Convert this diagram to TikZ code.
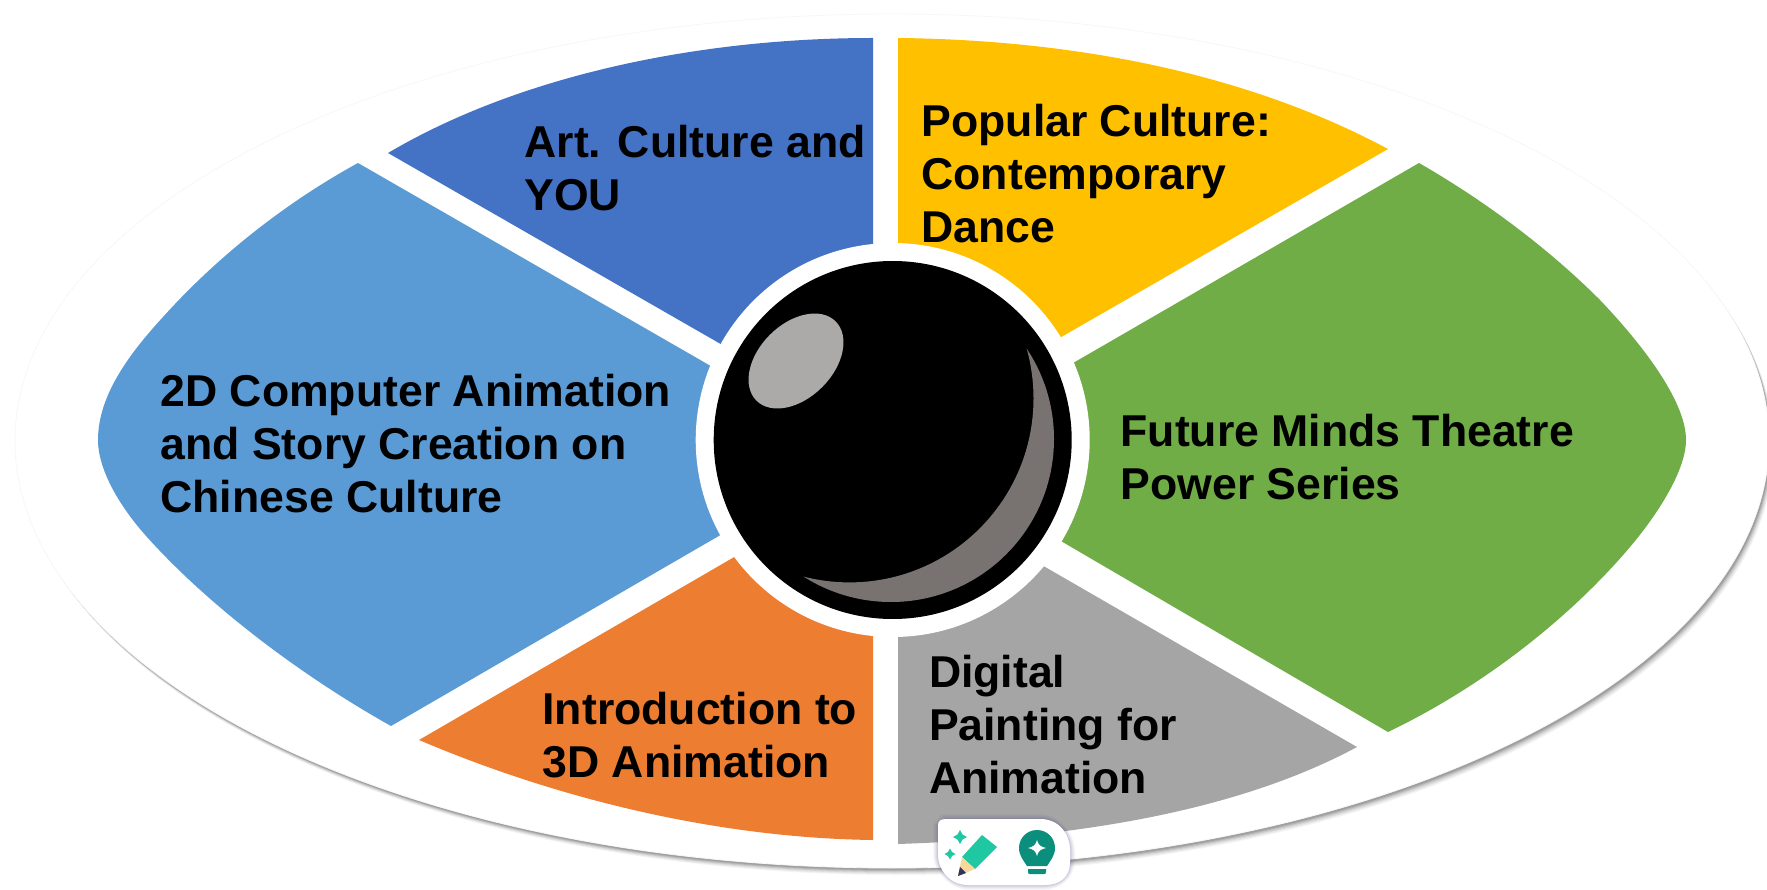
\documentclass[tikz,border=0pt]{standalone}
\usepackage{fontspec}
\setmainfont{Liberation Sans}
\definecolor{cDark}{HTML}{4472C4}
\definecolor{cLight}{HTML}{5B9BD5}
\definecolor{cYellow}{HTML}{FFC000}
\definecolor{cGreen}{HTML}{70AD47}
\definecolor{cOrange}{HTML}{ED7D31}
\definecolor{cGray}{HTML}{A5A5A5}
\definecolor{cCres}{HTML}{787371}
\definecolor{cHigh}{HTML}{ACA9A9}
\definecolor{cPencil}{HTML}{1FC7A2}
\definecolor{cBulb}{HTML}{0B8F7C}
\definecolor{cWood}{HTML}{F7D79A}
\tikzset{
  label/.style={anchor=north west,inner sep=0pt,outer sep=0pt,align=left,text=black,
    font=\fontsize{44.6pt}{52.6pt}\selectfont\bfseries},
}
\begin{document}
\begin{tikzpicture}[x=1pt,y=-1pt]
\useasboundingbox (0,0) rectangle (1767,890);
% outer ellipse with soft shadow
\foreach \d/\o in {7/0.04,6/0.05,5/0.06,4/0.08,3/0.10,2/0.12}{
  \fill[black,opacity=\o] (892+\d*0.7,441+\d) ellipse [x radius=877,y radius=427];
}
\fill[white,draw=black!3,line width=0.8pt] (892,441) ellipse [x radius=877,y radius=427];
% segments
\fill[cDark] (388,153) .. controls (520,75) and (700,38) .. (873,38) -- (873,300) -- (752,362) -- cycle;
\fill[cLight] (358,163) .. controls (285,203) and (217,257) .. (163,317)
   .. controls (130,353) and (98,395) .. (98,440)
   .. controls (98,470) and (120,507) .. (147,537)
   .. controls (208,605) and (300,675) .. (391,726) -- (755,515) -- (742,384) -- cycle;
\fill[cYellow] (898,38) .. controls (1080,40) and (1250,75) .. (1388,149) -- (1030,355) -- (898,300) -- cycle;
\fill[cGreen] (1419,163) .. controls (1480,198) and (1545,245) .. (1600,300)
   .. controls (1640,342) and (1686,400) .. (1686,440)
   .. controls (1686,470) and (1658,514) .. (1630,547)
   .. controls (1575,612) and (1490,683) .. (1388,732) -- (1030,523) -- (1042,381) -- cycle;
\fill[cOrange] (419,740) .. controls (560,800) and (720,838) .. (873,840) -- (873,600) -- (767,538) -- cycle;
\fill[cGray] (898,844) .. controls (1080,838) and (1240,810) .. (1357,747) -- (1014,549) -- (898,600) -- cycle;
% centre ball
\fill[white] (892.7,440) circle [x radius=197,y radius=197];
\fill[black] (892.7,440) circle [x radius=179,y radius=179];
\begin{scope}[even odd rule]
  \clip (600,100) rectangle (1200,800)
     (849.5,398.4) circle [x radius=184,y radius=184];
  \fill[cCres] (891,439) circle [x radius=163,y radius=163];
\end{scope}
\fill[cHigh,rotate around={45:(796,361)}] (796,361) ellipse [x radius=56,y radius=37];
% labels
\node[label] (art) at (524.5,125.5) {Art. Culture and\\YOU};
\node[label] (pop) at (921.5,104.5) {Popular Culture:\\Contemporary\\Dance};
\node[label] (twod) at (160.5,374.5) {2D Computer Animation\\and Story Creation on\\Chinese Culture};
\node[label] (fut) at (1120.5,414.5) {Future Minds Theatre\\Power Series};
\node[label] (intro) at (542.5,692.5) {Introduction to\\3D Animation};
\node[label] (dig) at (929,655.5) {Digital\\Painting for\\Animation};
% toolbar
\foreach \d/\o in {5/0.04,4/0.05,3/0.06,2/0.08,1/0.1}{
  \fill[black!40!blue!40!gray,opacity=\o]
   (946-\d,819-\d) -- (1040,819-\d) .. controls (1060,819-\d) and (1070+\d,835) .. (1070+\d,850)
   -- (1070+\d,862) .. controls (1070+\d,877) and (1060,885+\d) .. (1045,885+\d)
   -- (968,885+\d) .. controls (950,885+\d) and (938-\d,870) .. (938-\d,855) -- (938-\d,825) -- cycle;
}
\fill[white] (946,819) -- (1040,819) .. controls (1060,819) and (1070,835) .. (1070,850)
   -- (1070,862) .. controls (1070,877) and (1060,885) .. (1045,885)
   -- (968,885) .. controls (950,885) and (938,870) .. (938,855) -- (938,825)
   .. controls (938,821) and (941,819) .. (946,819) -- cycle;
% pencil
\fill[cPencil] (982,835) -- (997,847) -- (975,869) -- (962,857) -- cycle;
\fill[cWood] (962,857) -- (975,869) -- (958,876) -- cycle;
\fill[black!70!blue!60!gray] (960,867) -- (966,873) -- (958,876) -- cycle;
% sparkles
\fill[cPencil] (960,830) -- (962.5,834.5) -- (967,837) -- (962.5,839.5) -- (960,844) -- (957.5,839.5) -- (953,837) -- (957.5,834.5) -- cycle;
\fill[cPencil] (950,848.5) -- (952,852) -- (955.5,854) -- (952,856) -- (950,859.5) -- (948,856) -- (944.5,854) -- (948,852) -- cycle;
% bulb
\fill[cBulb] (1037,830) .. controls (1047,830) and (1055,838) .. (1055,848)
  .. controls (1055,856) and (1050,861) .. (1047,866) -- (1027,866)
  .. controls (1024,861) and (1019,856) .. (1019,848)
  .. controls (1019,838) and (1027,830) .. (1037,830) -- cycle;
\fill[cBulb] (1028,869) -- (1046,869) -- (1046,872) .. controls (1046,874) and (1045,874) .. (1044,874)
  -- (1030,874) .. controls (1029,874) and (1028,874) .. (1028,872) -- cycle;
\fill[white] (1037,840) .. controls (1038,845) and (1041,847) .. (1046,848)
  .. controls (1041,849) and (1038,851) .. (1037,856)
  .. controls (1036,851) and (1033,849) .. (1028,848)
  .. controls (1033,847) and (1036,845) .. (1037,840) -- cycle;
\end{tikzpicture}
\end{document}
